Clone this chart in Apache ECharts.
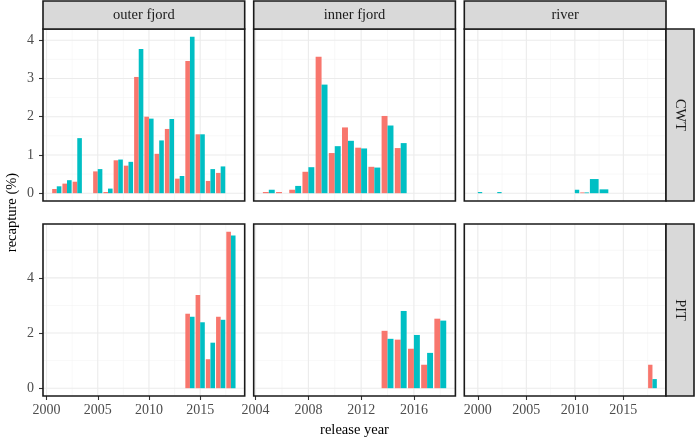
<!DOCTYPE html>
<html>
<head>
<meta charset="utf-8">
<script src="https://cdn.jsdelivr.net/npm/echarts@6/dist/echarts.min.js"></script>
<style>
html, body { margin: 0; padding: 0; background: #fff; }
#chart { width: 695px; height: 440px; }
</style>
</head>
<body>
<div id="chart"></div>
<script>
// facet labels
var columnNames = ["outer fjord", "inner fjord", "river"];
var rowNames = ["CWT", "PIT"];

// CWT recapture (%) by release year; first group (red) and second group (teal)
var cwtOuterYears = [2001, 2002, 2003, 2005, 2006, 2007, 2008, 2009, 2010, 2011, 2012, 2013, 2014, 2015, 2016, 2017];
var cwtOuterRed   = [0.11, 0.25, 0.30, 0.57, 0.03, 0.86, 0.72, 3.04, 2.00, 1.03, 1.68, 0.38, 3.46, 1.54, 0.32, 0.53];
var cwtOuterTeal  = [0.18, 0.34, 1.44, 0.63, 0.12, 0.88, 0.82, 3.77, 1.95, 1.38, 1.94, 0.45, 4.09, 1.54, 0.63, 0.70];

var cwtInnerYears = [2005, 2006, 2007, 2008, 2009, 2010, 2011, 2012, 2013, 2014, 2015];
var cwtInnerRed   = [0.03, 0.03, 0.09, 0.56, 3.57, 1.05, 1.72, 1.19, 0.69, 2.02, 1.18];
var cwtInnerTeal  = [0.09, 0.00, 0.19, 0.68, 2.84, 1.23, 1.37, 1.17, 0.67, 1.77, 1.31];

var cwtRiverYears = [2000, 2002, 2010, 2011, 2012, 2013];
var cwtRiverRed   = [0.00, 0.00, 0.00, 0.02, null, null];
var cwtRiverTeal  = [0.03, 0.03, 0.09, 0.02, 0.37, 0.10];

// PIT recapture (%)
var pitOuterYears = [2014, 2015, 2016, 2017, 2018];
var pitOuterRed   = [2.70, 3.38, 1.05, 2.59, 5.67];
var pitOuterTeal  = [2.59, 2.39, 1.65, 2.48, 5.54];

var pitInnerYears = [2014, 2015, 2016, 2017, 2018];
var pitInnerRed   = [2.08, 1.76, 1.43, 0.85, 2.52];
var pitInnerTeal  = [1.79, 2.80, 1.93, 1.28, 2.45];

var pitRiverYears = [2018];
var pitRiverRed   = [0.85];
var pitRiverTeal  = [0.33];

// axis breaks
var xMajor = [[2000, 2005, 2010, 2015], [2004, 2008, 2012, 2016], [2000, 2005, 2010, 2015]];
var xMinor = [[2002.5, 2007.5, 2012.5, 2017.5], [2006, 2010, 2014, 2018], [2002.5, 2007.5, 2012.5, 2017.5]];
var yMajor = [[0, 1, 2, 3, 4], [0, 2, 4]];
var yMinor = [[0.5, 1.5, 2.5, 3.5], [1, 3, 5]];

var panels = [
  { row: 0, col: 0, years: cwtOuterYears, red: cwtOuterRed, teal: cwtOuterTeal },
  { row: 0, col: 1, years: cwtInnerYears, red: cwtInnerRed, teal: cwtInnerTeal },
  { row: 0, col: 2, years: cwtRiverYears, red: cwtRiverRed, teal: cwtRiverTeal },
  { row: 1, col: 0, years: pitOuterYears, red: pitOuterRed, teal: pitOuterTeal },
  { row: 1, col: 1, years: pitInnerYears, red: pitInnerRed, teal: pitInnerTeal },
  { row: 1, col: 2, years: pitRiverYears, red: pitRiverRed, teal: pitRiverTeal }
];

var RED = "#F8766D", TEAL = "#00BFC4";
var FONT = '"Liberation Serif", "DejaVu Serif", serif';
var colLeft = [43, 253.7, 464.3], colWidth = 201.7;
var rowTop = [29, 224], rowHeight = 172;

// ggplot style ranges: bars +-0.45, then 5% expansion
function expand(lo, hi) {
  var d = (hi - lo) * 0.05;
  return [lo - d, hi + d];
}
var xRange = [0, 1, 2].map(function (c) {
  var ys = [];
  panels.forEach(function (p) { if (p.col === c) ys = ys.concat(p.years); });
  return expand(Math.min.apply(null, ys) - 0.45, Math.max.apply(null, ys) + 0.45);
});
var yRange = [0, 1].map(function (r) {
  var vs = [];
  panels.forEach(function (p) {
    if (p.row === r) vs = vs.concat(p.red.concat(p.teal).filter(function (v) { return v != null; }));
  });
  return expand(0, Math.max.apply(null, vs));
});

// dodge: side -1 left half, 1 right half, 0 full width (other group missing)
function dodged(years, vals, other, side) {
  var out = [];
  years.forEach(function (y, i) {
    if (vals[i] == null) return;
    out.push([y, vals[i], other[i] == null ? 0 : side]);
  });
  return out;
}

function renderBar(params, api) {
  var year = api.value(0), val = api.value(1), side = api.value(2);
  var x0 = side > 0 ? year : year - 0.45;
  var x1 = side < 0 ? year : year + 0.45;
  var p0 = api.coord([x0, val]);
  var p1 = api.coord([x1, 0]);
  return {
    type: "rect",
    shape: { x: p0[0], y: p0[1], width: p1[0] - p0[0], height: p1[1] - p0[1] },
    style: { fill: api.visual("color") }
  };
}

// panel grid lines; value 3 is the other axis' minimum, just to get a valid coord
function renderGridLine(params, api) {
  var v = api.value(0), major = api.value(1), horiz = api.value(2);
  var cs = params.coordSys;
  var shape;
  if (horiz) {
    var y = api.coord([api.value(3), v])[1];
    shape = { x1: cs.x, y1: y, x2: cs.x + cs.width, y2: y };
  } else {
    var x = api.coord([v, api.value(3)])[0];
    shape = { x1: x, y1: cs.y, x2: x, y2: cs.y + cs.height };
  }
  return {
    type: "line",
    shape: shape,
    style: { stroke: major ? "#EBEBEB" : "#F4F4F4", lineWidth: major ? 1.1 : 0.6 }
  };
}

var grids = [], xAxes = [], yAxes = [], series = [], graphics = [];

panels.forEach(function (p, i) {
  var r = p.row, c = p.col;
  grids.push({
    left: colLeft[c], top: rowTop[r], width: colWidth, height: rowHeight,
    show: true, backgroundColor: "#fff", borderWidth: 0
  });
  xAxes.push({
    type: "value", gridIndex: i, min: xRange[c][0], max: xRange[c][1],
    axisLine: { show: false, onZero: false },
    splitLine: { show: false },
    axisTick: { show: r === 1, customValues: xMajor[c], length: 4, lineStyle: { color: "#333", width: 1.1 } },
    axisLabel: {
      show: r === 1, customValues: xMajor[c], margin: 7,
      color: "#4D4D4D", fontFamily: FONT, fontSize: 14,
      formatter: function (v) { return String(v); }
    }
  });
  yAxes.push({
    type: "value", gridIndex: i, min: yRange[r][0], max: yRange[r][1],
    axisLine: { show: false, onZero: false },
    splitLine: { show: false },
    axisTick: { show: c === 0, customValues: yMajor[r], length: 4, lineStyle: { color: "#333", width: 1.1 } },
    axisLabel: {
      show: c === 0, customValues: yMajor[r], margin: 9,
      color: "#4D4D4D", fontFamily: FONT, fontSize: 14,
      formatter: function (v) { return String(v); }
    }
  });

  var lines = [];
  xMinor[c].forEach(function (v) { lines.push([v, 0, 0, yRange[r][0]]); });
  yMinor[r].forEach(function (v) { lines.push([v, 0, 1, xRange[c][0]]); });
  xMajor[c].forEach(function (v) { lines.push([v, 1, 0, yRange[r][0]]); });
  yMajor[r].forEach(function (v) { lines.push([v, 1, 1, xRange[c][0]]); });
  series.push({
    type: "custom", xAxisIndex: i, yAxisIndex: i, z: 1, silent: true,
    renderItem: renderGridLine, data: lines, encode: { x: 0, y: -1 }
  });
  series.push({
    type: "custom", name: "red", xAxisIndex: i, yAxisIndex: i, z: 3,
    itemStyle: { color: RED }, renderItem: renderBar,
    data: dodged(p.years, p.red, p.teal, -1), encode: { x: 0, y: 1 }
  });
  series.push({
    type: "custom", name: "teal", xAxisIndex: i, yAxisIndex: i, z: 3,
    itemStyle: { color: TEAL }, renderItem: renderBar,
    data: dodged(p.years, p.teal, p.red, 1), encode: { x: 0, y: 1 }
  });

  // panel border
  graphics.push({
    type: "rect", z: 100,
    shape: { x: colLeft[c], y: rowTop[r], width: colWidth, height: rowHeight },
    style: { fill: null, stroke: "#1a1a1a", lineWidth: 1.6 }
  });
});

// strips
columnNames.forEach(function (name, c) {
  graphics.push({
    type: "rect", z: 100,
    shape: { x: colLeft[c], y: 1, width: colWidth, height: rowTop[0] - 1 },
    style: { fill: "#D9D9D9", stroke: "#1a1a1a", lineWidth: 1.6 }
  });
  graphics.push({
    type: "text", z: 101, x: colLeft[c] + colWidth / 2, y: 15.5,
    style: { text: name, x: 0, y: 0, align: "center", verticalAlign: "middle", font: "14.5px " + FONT, fill: "#1A1A1A" }
  });
});
rowNames.forEach(function (name, r) {
  var sx = colLeft[2] + colWidth;
  graphics.push({
    type: "rect", z: 100,
    shape: { x: sx, y: rowTop[r], width: 28, height: rowHeight },
    style: { fill: "#D9D9D9", stroke: "#1a1a1a", lineWidth: 1.6 }
  });
  graphics.push({
    type: "text", z: 101, x: sx + 14, y: rowTop[r] + rowHeight / 2, rotation: -Math.PI / 2,
    style: { text: name, x: 0, y: 0, align: "center", verticalAlign: "middle", font: "14.5px " + FONT, fill: "#1A1A1A" }
  });
});

// axis titles
graphics.push({
  type: "text", z: 101, x: 12, y: (rowTop[0] + rowTop[1] + rowHeight) / 2, rotation: Math.PI / 2,
  style: { text: "recapture (%)", x: 0, y: 0, align: "center", verticalAlign: "middle", font: "14.5px " + FONT, fill: "#000" }
});
graphics.push({
  type: "text", z: 101, x: colLeft[0] + (colLeft[2] + colWidth - colLeft[0]) / 2, y: 430,
  style: { text: "release year", x: 0, y: 0, align: "center", verticalAlign: "middle", font: "14.5px " + FONT, fill: "#000" }
});

var chart = echarts.init(document.getElementById("chart"));
chart.setOption({
  animation: false,
  backgroundColor: "#fff",
  grid: grids,
  xAxis: xAxes,
  yAxis: yAxes,
  series: series,
  graphic: graphics
});
</script>
</body>
</html>
